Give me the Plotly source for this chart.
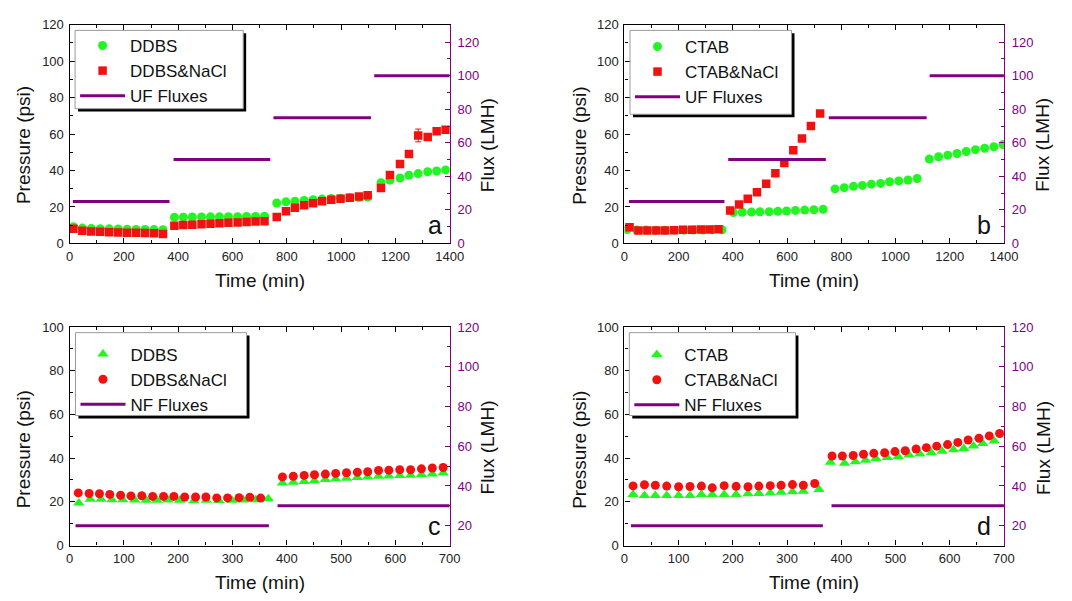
import plotly.graph_objects as go

W, H = 1072, 601

# ---------------- data ----------------
# (a) UF, DDBS
t_a = [14, 47, 80, 113, 146, 179, 212, 245, 278, 311, 344,
       386, 419, 452, 486, 519, 552, 585, 619, 652, 685, 718,
       763, 797, 830, 864, 897, 930, 964, 998, 1032, 1066, 1098,
       1147, 1180, 1217, 1250, 1284, 1319, 1352, 1385]
p_ddbs_a = [9.2, 8.4, 8.2, 8.1, 8.0, 7.9, 7.8, 7.7, 7.7, 7.6, 7.5,
            14.3, 14.4, 14.5, 14.5, 14.6, 14.6, 14.7, 14.7, 14.8, 14.8, 14.9,
            22.2, 22.8, 23.2, 23.6, 24.0, 24.3, 24.6, 24.8, 25.0, 25.2, 25.4,
            33.3, 34.7, 35.9, 37.4, 38.3, 39.3, 39.7, 40.3]
p_ddbs_nacl_a = [8.0, 6.9, 6.6, 6.4, 6.2, 6.0, 5.9, 5.8, 5.7, 5.6, 5.2,
                 9.7, 10.1, 10.3, 10.5, 10.8, 11.1, 11.3, 11.5, 11.8, 12.0, 12.2,
                 14.5, 17.7, 19.6, 20.9, 22.1, 23.1, 23.9, 24.5, 25.0, 25.7, 26.4,
                 30.4, 37.5, 43.5, 49.0, 59.2, 58.3, 61.5, 62.3]
err_ddbs_nacl_a = [0] * 37 + [3.5, 0, 0, 0]

# (b) UF, CTAB
t_ctab_b = [10, 45, 80, 115, 150, 185, 220, 255, 290, 325, 360,
            402, 435, 469, 500, 534, 566, 598, 631, 665, 699, 733,
            777, 811, 845, 878, 911, 945, 978, 1012, 1046, 1080,
            1125, 1159, 1193, 1227, 1261, 1295, 1329, 1363, 1397]
p_ctab_b = [7.6, 7.4, 7.4, 7.3, 7.3, 7.3, 7.3, 7.4, 7.4, 7.5, 7.5,
            16.9, 17.1, 17.2, 17.4, 17.4, 17.6, 17.8, 18.1, 18.3, 18.5, 18.7,
            29.9, 30.6, 31.3, 31.8, 32.5, 32.9, 33.8, 34.3, 34.8, 35.6,
            46.3, 47.5, 48.4, 49.3, 50.4, 51.4, 52.2, 53.0, 54.2]
t_ctab_nacl_b = [19, 52, 85, 118, 150, 183, 216, 249, 282, 314, 347,
                 390, 423, 455, 489, 523, 557, 590, 623, 655, 688, 722]
p_ctab_nacl_b = [8.9, 7.1, 7.1, 7.1, 7.1, 7.3, 7.5, 7.5, 7.6, 7.6, 7.8,
                 18.1, 21.3, 24.5, 28.1, 32.7, 38.5, 44.1, 51.1, 57.6, 64.4, 71.3]

# (c) NF, DDBS
t_ddbs_c = [17, 38, 58, 78, 98, 120, 141, 161, 181, 203, 229, 252, 275, 299, 320, 343, 366,
            392, 412, 432, 451, 471, 490, 510, 530, 549, 569, 588, 608, 628, 648, 668, 688]
p_ddbs_c = [19.5, 21.2, 21.2, 21.0, 21.0, 20.8, 20.7, 20.7, 20.8, 20.7, 20.5, 20.7, 20.6, 20.7, 20.8, 21.0, 21.4,
            28.6, 29.0, 29.3, 29.6, 30.2, 30.5, 30.8, 31.1, 31.4, 31.7, 31.8, 32.1, 32.2, 32.5, 32.8, 33.2]
t_ddbs_nacl_c = [16, 36, 55, 74, 94, 113, 133, 153, 173, 192, 212, 232, 251, 271, 291, 312, 332, 352,
                 392, 412, 432, 451, 471, 490, 510, 530, 549, 569, 588, 608, 628, 648, 668, 688]
p_ddbs_nacl_c = [24.1, 23.8, 23.7, 23.4, 23.0, 22.7, 22.8, 22.5, 22.5, 22.5, 22.2, 22.2, 22.2, 21.8, 21.8, 21.9, 22.1, 21.7,
                 31.4, 31.7, 32.1, 32.4, 32.7, 33.0, 33.3, 33.6, 33.8, 34.4, 34.5, 34.7, 34.7, 35.1, 35.5, 35.7]

# (d) NF, CTAB
t_ctab_d = [16, 37, 57, 78, 100, 121, 142, 162, 184, 206, 228, 248, 269, 289, 310, 330, 359,
            380, 406, 426, 445, 464, 485, 505, 525, 545, 566, 586, 607, 626, 644, 661, 682]
p_ctab_d = [23.4, 22.9, 22.9, 22.9, 22.9, 22.9, 23.4, 23.4, 23.4, 23.4, 23.7, 23.8, 24.0, 24.4, 24.6, 24.9, 25.6,
            38.1, 37.7, 38.4, 39.0, 39.8, 40.3, 40.8, 41.4, 41.9, 42.5, 43.2, 43.8, 44.4, 45.6, 46.7, 47.8]
t_ctab_nacl_d = [16, 37, 57, 78, 100, 121, 142, 162, 184, 206, 228, 248, 269, 289, 310, 330, 351,
                 383, 402, 422, 441, 460, 480, 499, 518, 538, 557, 576, 596, 615, 634, 654, 673, 692]
p_ctab_nacl_d = [27.3, 27.8, 27.6, 27.2, 26.9, 27.0, 27.2, 26.4, 27.4, 27.1, 26.9, 27.2, 27.4, 27.6, 27.9, 27.6, 28.4,
                 41.0, 41.0, 41.2, 41.8, 42.2, 42.5, 43.0, 43.4, 44.2, 44.8, 45.5, 46.2, 47.2, 48.3, 49.1, 50.2, 51.3]

# applied flux steps (LMH): start time, end time, flux
uf_start_a = [12, 383, 751, 1122]
uf_end_a = [368, 739, 1110, 1400]
uf_flux_a = [25, 50, 75, 100]
uf_start_b = [17, 383, 754, 1126]
uf_end_b = [369, 743, 1115, 1400]
uf_flux_b = [25, 50, 75, 100]
nf_start_c = [11, 383]
nf_end_c = [367, 700]
nf_flux_c = [20, 30]
nf_start_d = [12, 382]
nf_end_d = [366, 700]
nf_flux_d = [20, 30]

GREEN = "#22F522"
RED = "#F21111"
PURPLE = "#800080"
FONT = "Liberation Sans, Arial, sans-serif"


def px(x):
    return x / W


def py(y):
    return 1 - y / H


def steps(starts, ends, flux):
    xs, ys = [], []
    for s, e, f in zip(starts, ends, flux):
        xs += [s, e, None]
        ys += [f, f, None]
    return xs, ys


fig = go.Figure()

panels = [
    dict(k=1, legend="legend", series=[
        ("DDBS", t_a, p_ddbs_a, "circle", 9, None),
        ("DDBS&NaCl", t_a, p_ddbs_nacl_a, "square", 8.5, err_ddbs_nacl_a)],
        flux=("UF Fluxes", uf_start_a, uf_end_a, uf_flux_a)),
    dict(k=2, legend="legend2", series=[
        ("CTAB", t_ctab_b, p_ctab_b, "circle", 9, None),
        ("CTAB&NaCl", t_ctab_nacl_b, p_ctab_nacl_b, "square", 8.5, None)],
        flux=("UF Fluxes", uf_start_b, uf_end_b, uf_flux_b)),
    dict(k=3, legend="legend3", series=[
        ("DDBS", t_ddbs_c, p_ddbs_c, "triangle-up", 10, None),
        ("DDBS&NaCl", t_ddbs_nacl_c, p_ddbs_nacl_c, "circle", 9, None)],
        flux=("NF Fluxes", nf_start_c, nf_end_c, nf_flux_c)),
    dict(k=4, legend="legend4", series=[
        ("CTAB", t_ctab_d, p_ctab_d, "triangle-up", 10, None),
        ("CTAB&NaCl", t_ctab_nacl_d, p_ctab_nacl_d, "circle", 9, None)],
        flux=("NF Fluxes", nf_start_d, nf_end_d, nf_flux_d)),
]

colors = [GREEN, RED]
for p in panels:
    k = p["k"]
    xa = "x" if k == 1 else f"x{k}"
    ya = "y" if k == 1 else f"y{k}"
    yr = f"y{k + 4}"
    name, s, e, f = p["flux"]
    fx, fy = steps(s, e, f)
    for (nm, t, v, sym, size, err), col in zip(p["series"], colors):
        tr = go.Scatter(x=t, y=v, mode="markers", name=nm,
                        marker=dict(symbol=sym, size=size, color=col, line=dict(width=0)),
                        xaxis=xa, yaxis=ya, legend=p["legend"])
        if err is not None:
            tr.error_y = dict(type="data", array=err, visible=True, color=col,
                              thickness=1, width=3)
        fig.add_trace(tr)
    fig.add_trace(go.Scatter(x=fx, y=fy, mode="lines", name=name,
                             line=dict(color=PURPLE, width=3),
                             xaxis=xa, yaxis=yr, legend=p["legend"]))

# panel frames (pixels)
left_x = [66.7, 453.3]
right_x = [631.0, 1017.0]
top_y = [18.0, 242.5]
bot_y = [328.3, 552.3]
frames = {1: (left_x, top_y), 2: (right_x, top_y), 3: (left_x, bot_y), 4: (right_x, bot_y)}

tickfont = dict(family=FONT, size=13, color="#222222")
ptickfont = dict(family=FONT, size=13, color=PURPLE)
layout = {}
for k, (xs, ys) in frames.items():
    xname = "xaxis" if k == 1 else f"xaxis{k}"
    yname = "yaxis" if k == 1 else f"yaxis{k}"
    rname = f"yaxis{k + 4}"
    ya = "y" if k == 1 else f"y{k}"
    xa = "x" if k == 1 else f"x{k}"
    uf = k <= 2
    layout[xname] = dict(
        domain=[px(xs[0]), px(xs[1])], anchor=ya,
        range=[0, 1400] if uf else [0, 700],
        dtick=200 if uf else 100, tick0=0,
        ticks="inside", ticklen=5, tickwidth=1, tickcolor="black",
        minor=dict(ticks="inside", ticklen=3, dtick=100 if uf else 50, tickcolor="black"),
        showline=True, linecolor="black", linewidth=1.3, mirror="ticks",
        showgrid=False, zeroline=False, tickfont=tickfont, ticklabelstandoff=1)
    layout[yname] = dict(
        domain=[py(ys[1]), py(ys[0])], anchor=xa,
        range=[0, 120] if uf else [0, 100], dtick=20, tick0=0,
        ticks="inside", ticklen=5, tickwidth=1, tickcolor="black",
        minor=dict(ticks="inside", ticklen=3, dtick=10, tickcolor="black"),
        showline=True, linecolor="black", linewidth=1.3,
        showgrid=False, zeroline=False, tickfont=tickfont, ticklabelstandoff=2)
    layout[rname] = dict(
        overlaying=ya, anchor=xa, side="right",
        range=[0, 130.5] if uf else [10, 120],
        tickvals=[0, 20, 40, 60, 80, 100, 120] if uf else [20, 40, 60, 80, 100, 120],
        ticks="inside", ticklen=5, tickwidth=1, tickcolor=PURPLE,
        minor=dict(ticks="inside", ticklen=3, tickvals=list(range(10, 130, 20)), tickcolor=PURPLE),
        showline=True, linecolor=PURPLE, linewidth=1.3,
        showgrid=False, zeroline=False, tickfont=ptickfont, ticklabelstandoff=4)

# legend frames (pixels: left, top, right, bottom): white box, grey border, black drop shadow
legend_box = {"legend": (72.3, 24, 243.3, 104.3),
              "legend2": (636.7, 24, 801, 110),
              "legend3": (72.7, 334, 246.7, 419),
              "legend4": (636.0, 334, 805, 419)}
# top edge (pixels) of the legend entries inside each frame
legend_top = {"legend": 21.5, "legend2": 22.5, "legend3": 338, "legend4": 338.5}
shapes = []
for lg, (x0, y0, x1, y1) in legend_box.items():
    shapes.append(dict(type="rect", xref="paper", yref="paper", layer="above",
                       x0=px(x0 + 3), x1=px(x1 + 3), y0=py(y1 + 3), y1=py(y0 + 3),
                       fillcolor="black", line=dict(width=0)))
    shapes.append(dict(type="rect", xref="paper", yref="paper", layer="above",
                       x0=px(x0), x1=px(x1), y0=py(y1), y1=py(y0),
                       fillcolor="white", line=dict(width=1, color="#9a9a9a")))
    layout[lg] = dict(x=px(x0), y=py(legend_top[lg]),
                      xanchor="left", yanchor="top",
                      bgcolor="rgba(0,0,0,0)", borderwidth=0,
                      font=dict(family=FONT, size=17, color="#111111"),
                      itemwidth=45, tracegroupgap=0)

annotations = []
titles = [
    ("Time (min)", 260, 280, 0),
    ("Time (min)", 824, 281, 0),
    ("Time (min)", 260, 590, 0),
    ("Time (min)", 824, 590, 0),
    ("Pressure (psi)", 20, 142, -90),
    ("Pressure (psi)", 585, 142, -90),
    ("Pressure (psi)", 20, 454, -90),
    ("Pressure (psi)", 585, 454, -90),
    ("Flux (LMH)", 492, 142, -90),
    ("Flux (LMH)", 1056, 141, -90),
    ("Flux (LMH)", 492, 452, -90),
    ("Flux (LMH)", 1057, 452, -90),
]
for txt, x, y, ang in titles:
    annotations.append(dict(text=txt, x=px(x), y=py(y), xref="paper", yref="paper",
                            xanchor="center", yanchor="middle", showarrow=False, textangle=ang,
                            font=dict(family=FONT, size=19, color="#111111")))
for txt, x, y in [("a", 438, 224), ("b", 997, 224), ("c", 438, 532), ("d", 997, 532)]:
    annotations.append(dict(text=txt, x=px(x), y=py(y), xref="paper", yref="paper",
                            xanchor="center", yanchor="middle", showarrow=False,
                            font=dict(family=FONT, size=25, color="#111111")))

fig.update_layout(width=W, height=H, margin=dict(l=0, r=0, t=0, b=0),
                  paper_bgcolor="white", plot_bgcolor="white",
                  showlegend=True, annotations=annotations, shapes=shapes, **layout)

fig.write_html("out.html")
